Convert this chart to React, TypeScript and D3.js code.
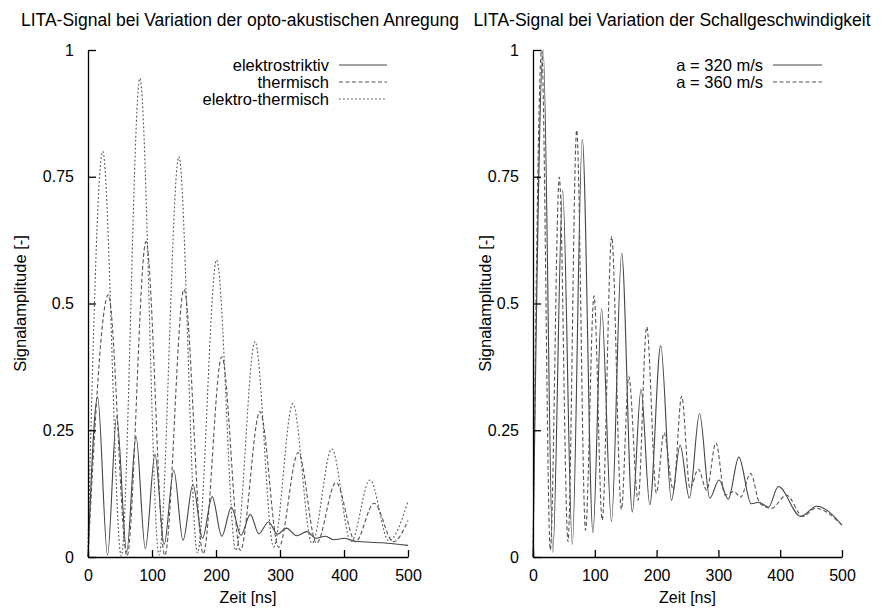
import React, { useRef, useEffect } from 'react';
import * as d3 from 'd3';

type Pt = [number, number];

// tick values
const timeTicks = [0, 100, 200, 300, 400, 500];
const ampTicks = [0, 0.25, 0.5, 0.75, 1];

// left panel: [Zeit ns, Amplitude]
const elektrostriktiv: Pt[] = [
  [0, 0], [15, 0.316], [30.5, 0.004], [44.8, 0.277], [60.5, 0.01], [75, 0.238],
  [89.6, 0.016], [104.7, 0.203], [119, 0.025], [134, 0.171], [148.5, 0.033],
  [164, 0.143], [179, 0.037], [194, 0.119], [209, 0.041], [224, 0.098],
  [239, 0.043], [253.5, 0.084], [267, 0.046], [282, 0.069], [296, 0.045],
  [310, 0.057], [326, 0.042], [342, 0.05], [356, 0.037], [371, 0.041],
  [384, 0.034], [401, 0.037], [417, 0.031], [460, 0.028], [500, 0.023],
];

const thermisch: Pt[] = [
  [0, 0], [31.8, 0.517], [61, 0.002], [90.6, 0.622], [120, 0.003], [150, 0.528],
  [180, 0.006], [209, 0.395], [238, 0.013], [268.7, 0.287], [298, 0.019],
  [328.6, 0.206], [357, 0.027], [387.5, 0.147], [418, 0.03], [447, 0.106],
  [477, 0.03], [500, 0.072],
];

const elektroThermisch: Pt[] = [
  [0, 0.02], [23, 0.8], [52, 0.002], [81, 0.944], [111, 0.004], [142, 0.79],
  [171, 0.008], [201, 0.586], [231, 0.013], [261, 0.425], [290, 0.02],
  [320, 0.302], [350, 0.027], [381, 0.213], [411, 0.03], [440.5, 0.152],
  [470, 0.032], [500, 0.11],
];

// right panel
const schall320: Pt[] = [
  [0, 0], [16.5, 1.0], [32, 0.009], [48, 0.724], [63.6, 0.025], [79.8, 0.824],
  [97, 0.048], [111, 0.49], [127, 0.07], [143.5, 0.599], [160.7, 0.089],
  [174.8, 0.331], [189, 0.103], [206.6, 0.417], [224, 0.112], [238, 0.221],
  [253, 0.116], [269.5, 0.283], [286, 0.116], [301, 0.152], [316, 0.114],
  [333, 0.197], [353, 0.105], [366, 0.108], [381, 0.098], [397, 0.139],
  [433, 0.08], [459, 0.1], [500, 0.063],
];

const schall360: Pt[] = [
  [0, 0], [14, 1.0], [28, 0.014], [42.6, 0.749], [56.6, 0.03], [70.7, 0.842],
  [85, 0.053], [98.7, 0.515], [112, 0.073], [127.3, 0.632], [143, 0.094],
  [155, 0.356], [170, 0.112], [184, 0.454], [199.6, 0.126], [212, 0.245],
  [227, 0.132], [240.6, 0.317], [254, 0.135], [267.5, 0.173], [281, 0.132],
  [296, 0.225], [310.7, 0.122], [325, 0.129], [336, 0.118], [352, 0.165],
  [367, 0.106], [386, 0.096], [410, 0.122], [437, 0.08], [457, 0.096],
  [500, 0.063],
];

const FONT = '"Liberation Sans", Arial, Helvetica, sans-serif';

const panels = [
  {
    title: 'LITA-Signal bei Variation der opto-akustischen Anregung',
    titleX: 240,
    x0: 88, x1: 408,
    yLabelX: 20,
    legendEnd: 329, lineX0: 339, lineX1: 387,
    series: [
      { name: 'elektrostriktiv', data: elektrostriktiv, dash: null, color: '#444' },
      { name: 'thermisch', data: thermisch, dash: '4,2.5', color: '#555' },
      { name: 'elektro-thermisch', data: elektroThermisch, dash: '1.8,2.2', color: '#555' },
    ],
  },
  {
    title: 'LITA-Signal bei Variation der Schallgeschwindigkeit',
    titleX: 672,
    x0: 533, x1: 842,
    yLabelX: 485,
    legendEnd: 763, lineX0: 773, lineX1: 822,
    series: [
      { name: 'a = 320 m/s', data: schall320, dash: null, color: '#444' },
      { name: 'a = 360 m/s', data: schall360, dash: '4,2.5', color: '#555' },
    ],
  },
];

const App = () => {
  const ref = useRef<SVGSVGElement>(null);

  useEffect(() => {
    const svg = d3.select(ref.current);
    svg.selectAll('*').remove();
    const yTop = 50;
    const yBottom = 557;

    panels.forEach((p) => {
      const x = d3.scaleLinear().domain([0, 500]).range([p.x0, p.x1]);
      const y = d3.scaleLinear().domain([0, 1]).range([yBottom, yTop]);
      const g = svg.append('g');

      const line = d3.line<Pt>()
        .x(d => x(d[0]))
        .y(d => y(d[1]))
        .curve(d3.curveMonotoneX);

      p.series.forEach((s) => {
        g.append('path')
          .attr('d', line(s.data))
          .attr('fill', 'none')
          .attr('stroke', s.color)
          .attr('stroke-width', 1.1)
          .attr('stroke-dasharray', s.dash);
      });

      // axes, ticks pointing inward
      const ax = g.append('g')
        .attr('transform', `translate(${p.x0},0)`)
        .call(d3.axisLeft(y).tickValues(ampTicks).tickFormat(d3.format('')).tickSize(-8).tickSizeOuter(0).tickPadding(14));
      const bx = g.append('g')
        .attr('transform', `translate(0,${yBottom})`)
        .call(d3.axisBottom(x).tickValues(timeTicks).tickSize(-7).tickSizeOuter(0).tickPadding(13));
      [ax, bx].forEach((a) => {
        a.selectAll('path, line').attr('stroke', '#000').attr('stroke-width', 1.3);
        a.selectAll('text').attr('font-family', FONT).attr('font-size', 16).attr('fill', '#000');
      });

      g.append('text')
        .attr('x', p.titleX)
        .attr('y', 26)
        .attr('text-anchor', 'middle')
        .attr('font-family', FONT)
        .attr('font-size', 17.5)
        .text(p.title);

      g.append('text')
        .attr('x', (p.x0 + p.x1) / 2)
        .attr('y', 603)
        .attr('text-anchor', 'middle')
        .attr('font-family', FONT)
        .attr('font-size', 16)
        .text('Zeit [ns]');

      g.append('text')
        .attr('transform', `translate(${p.yLabelX},${(yTop + yBottom) / 2}) rotate(-90)`)
        .attr('dy', '0.35em')
        .attr('text-anchor', 'middle')
        .attr('font-family', FONT)
        .attr('font-size', 16.5)
        .text('Signalamplitude [-]');

      // legend
      p.series.forEach((s, i) => {
        const ly = 65 + i * 17;
        g.append('text')
          .attr('x', p.legendEnd)
          .attr('y', ly)
          .attr('dy', '0.35em')
          .attr('text-anchor', 'end')
          .attr('font-family', FONT)
          .attr('font-size', 16.5)
          .text(s.name);
        g.append('line')
          .attr('x1', p.lineX0)
          .attr('x2', p.lineX1)
          .attr('y1', ly)
          .attr('y2', ly)
          .attr('stroke', s.color)
          .attr('stroke-width', 1.1)
          .attr('stroke-dasharray', s.dash);
      });
    });
  }, []);

  return (
    <svg
      ref={ref}
      width={883}
      height={608}
      style={{ position: 'absolute', left: 0, top: 0, background: '#fff' }}
    />
  );
};

export default App;
